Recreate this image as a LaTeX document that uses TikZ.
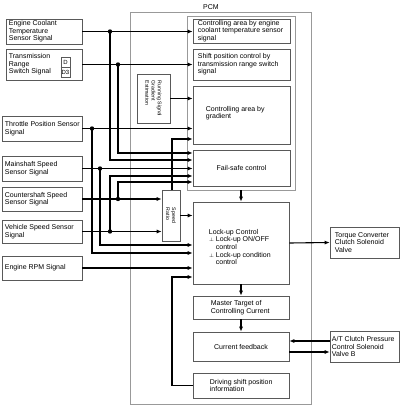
\documentclass[tikz,border=0pt]{standalone}
\usepackage{fontspec}
\setmainfont{Liberation Sans}
\usetikzlibrary{arrows.meta,fit}
\tikzset{
  bx/.style={draw=black!65, line width=0.6pt, inner sep=0pt},
  grp/.style={draw=black!40, line width=0.8pt, inner sep=0pt},
  txt/.style={inner sep=0pt, align=left, font=\fontsize{7}{7.6}\selectfont},
  rtxt/.style={inner sep=0pt, align=left, font=\fontsize{5.2}{6.2}\selectfont},
  conn/.style={line width=1.1pt, black},
  arr/.style={conn, -{Latex[length=5pt,width=4pt]}},
  jdot/.style={fill=black},
}
\newcommand\mkbox[6]{\node[#2, fit={(#3,#4) (#5,#6)}] (#1) {};}
\begin{document}
\begin{tikzpicture}[x=1pt,y=-1pt]
\useasboundingbox (0,0) rectangle (400,406);
% PCM and group
\mkbox{pcm}{grp}{130}{12}{311}{404}
\node[txt, anchor=south] (pcmlabel) at (211,10) {PCM};
\mkbox{grpbox}{grp}{187}{16}{295}{190}
% input boxes
\mkbox{ect}{bx}{6}{19}{82}{44}
\node[txt, anchor=west] (tect) at ([xshift=3pt]ect.west) {Engine Coolant\\Temperature\\Sensor Signal};
\mkbox{trs}{bx}{6}{49}{82}{80}
\node[txt, anchor=west] (ttrs) at ([xshift=3pt]trs.west) {Transmission\\Range\\Switch Signal};
\mkbox{dbox}{bx}{61}{57}{70}{77}
\draw[black!65, line width=0.6pt] (dbox.west) -- (dbox.east);
\node[txt, font=\fontsize{6}{6}\selectfont] (dD) at (65.5,62.5) {D};
\node[txt, font=\fontsize{6}{6}\selectfont] (dD3) at (65.5,72) {D3};
\mkbox{tps}{bx}{2}{116}{82}{141}
\node[txt, anchor=west] (ttps) at ([xshift=3pt]tps.west) {Throttle Position Sensor\\Signal};
\mkbox{mss}{bx}{2}{156}{82}{181}
\node[txt, anchor=west] (tmss) at ([xshift=3pt]mss.west) {Mainshaft Speed\\Sensor Signal};
\mkbox{css}{bx}{2}{187}{82}{211}
\node[txt, anchor=west] (tcss) at ([xshift=3pt]css.west) {Countershaft Speed\\Sensor Signal};
\mkbox{vss}{bx}{2}{220}{82}{243}
\node[txt, anchor=west] (tvss) at ([xshift=3pt]vss.west) {Vehicle Speed Sensor\\Signal};
\mkbox{rpm}{bx}{2}{256}{82}{280}
\node[txt, anchor=west] (trpm) at ([xshift=3pt]rpm.west) {Engine RPM Signal};
% estimation boxes
\mkbox{est1}{bx}{137}{74}{170}{123}
\node[rtxt, rotate=-90] (test1) at (est1.center) {Running Signal\\Gradient\\Estimation};
\mkbox{est2}{bx}{162}{190}{180}{241}
\node[rtxt, rotate=-90] (test2) at (est2.center) {Speed\\Ratio};
% PCM inner boxes
\mkbox{c1}{bx}{193}{19}{290}{43}
\node[txt, anchor=west] (tc1) at ([xshift=5pt]c1.west) {Controlling area by engine\\coolant temperature sensor\\signal};
\mkbox{c2}{bx}{193}{49}{290}{80}
\node[txt, anchor=west] (tc2) at ([xshift=5pt]c2.west) {Shift position control by\\transmission range switch\\signal};
\mkbox{c3}{bx}{193}{86}{290}{144}
\node[txt, anchor=west] (tc3) at ([xshift=13pt,yshift=2pt]c3.west) {Controlling area by\\gradient};
\mkbox{c4}{bx}{193}{150}{290}{186}
\node[txt] (tc4) at (c4.center) {Fail-safe control};
\mkbox{lu}{bx}{193}{202}{289}{284}
\node[txt, anchor=west] (tlu) at ([xshift=16pt,yshift=-4pt]lu.west) {Lock-up Control\\
\makebox[7pt][l]{\fontsize{5}{5}\selectfont$\perp$}Lock-up ON/OFF\\
\hspace*{7pt}control\\
\makebox[7pt][l]{\fontsize{5}{5}\selectfont$\perp$}Lock-up condition\\
\hspace*{7pt}control};
\mkbox{mt}{bx}{193}{296}{289}{319}
\node[txt, anchor=west] (tmt) at ([xshift=18pt]mt.west) {Master Target of\\Controlling Current};
\mkbox{cf}{bx}{193}{332}{289}{361}
\node[txt] (tcf) at (cf.center) {Current feedback};
\mkbox{ds}{bx}{193}{373}{289}{398}
\node[txt, anchor=west] (tds) at ([xshift=17pt]ds.west) {Driving shift position\\information};
% output boxes
\mkbox{tcc}{bx}{330}{227}{399}{258}
\node[txt, anchor=west] (ttcc) at ([xshift=5pt]tcc.west) {Torque Converter\\Clutch Solenoid\\Valve};
\mkbox{atc}{bx}{330}{331}{399}{362}
\node[txt, anchor=west] (tatc) at ([xshift=2pt]atc.west) {A/T Clutch Pressure\\Control Solenoid\\Valve B};
% junctions and bends
\coordinate (jA) at (110,31.5);
\coordinate (jA2) at (110,160);
\coordinate (jB) at (118,64.5);
\coordinate (jB2) at (118,153);
\coordinate (jC) at (92,128.5);
\coordinate (jC2) at (92,253);
\coordinate (jD) at (100,168.5);
\coordinate (jD2) at (100,245);
\coordinate (jE) at (118,199);
\coordinate (jE2) at (118,182);
\coordinate (jF) at (110,231.5);
\coordinate (jF2) at (110,176);
\coordinate (e2top) at (172,190);
\coordinate (e2bend) at (172,139);
\coordinate (dsb1) at (172,385.5);
\coordinate (dsb2) at (172,277);
% connectors
\draw[arr] (ect.east) -- (ect.east -| c1.west);
\draw[arr] (trs.east) -- (trs.east -| c2.west);
\draw[arr] (tps.east) -- (tps.east -| c3.west);
\draw[arr] (mss.east) -- (mss.east -| c4.west);
\draw[arr] (css.east |- jE) -- (jE -| est2.west);
\draw[arr] (vss.east |- jF) -- (jF -| est2.west);
\draw[arr] (rpm.east) -- (rpm.east -| lu.west);
\draw[arr] (jA) -- (jA2) -- (jA2 -| c4.west);
\draw[arr] (jB) -- (jB2) -- (jB2 -| c4.west);
\draw[arr] (jC) -- (jC2) -- (jC2 -| lu.west);
\draw[arr] (jD) -- (jD2) -- (jD2 -| lu.west);
\draw[arr] (jE) -- (jE2) -- (jE2 -| c4.west);
\draw[arr] (jF) -- (jF2) -- (jF2 -| c4.west);
\draw[arr] (est1.east) -- (est1.east -| c3.west);
\draw[arr] (e2top) -- (e2bend) -- (e2bend -| c3.west);
\draw[arr] (est2.east) -- (est2.east -| lu.west);
\draw[arr] (grpbox.south) -- (lu.north);
\draw[arr] (lu.south) -- (mt.north);
\draw[arr] (mt.south) -- (cf.north);
\draw[arr] (lu.east) -- (tcc.west);
\draw[arr] (atc.west |- 0,341) -- (cf.east |- 0,341);
\draw[arr] (cf.east |- 0,352) -- (atc.west |- 0,352);
\draw[arr] (ds.west) -- (dsb1) -- (dsb2) -- (dsb2 -| lu.west);
\foreach \j in {jA,jB,jC,jD,jE,jF} \fill[jdot] (\j) circle (2.2pt);
\end{tikzpicture}
\end{document}
